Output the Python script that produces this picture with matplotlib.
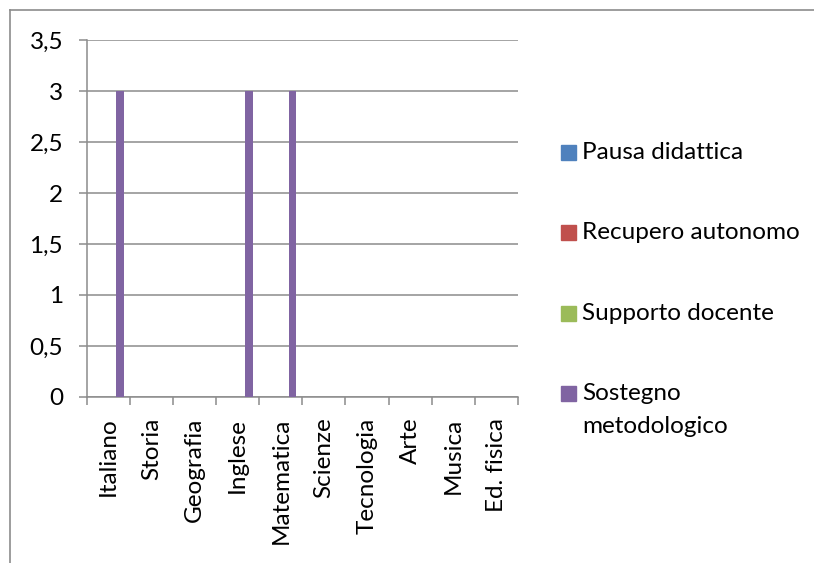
import matplotlib
matplotlib.use("Agg")
import matplotlib.pyplot as plt
from matplotlib.patches import Rectangle
from matplotlib.lines import Line2D
import numpy as np

categories = ["Italiano", "Storia", "Geografia", "Inglese", "Matematica",
              "Scienze", "Tecnologia", "Arte", "Musica", "Ed. fisica"]
series_names = ["Pausa didattica", "Recupero autonomo", "Supporto docente",
                "Sostegno\nmetodologico"]
pausa = [0, 0, 0, 0, 0, 0, 0, 0, 0, 0]
recupero = [0, 0, 0, 0, 0, 0, 0, 0, 0, 0]
supporto = [0, 0, 0, 0, 0, 0, 0, 0, 0, 0]
sostegno = [3, 0, 0, 3, 3, 0, 0, 0, 0, 0]
colors = ["#4F81BD", "#C0504D", "#9BBB59", "#8064A2"]
yticks = [0, 0.5, 1, 1.5, 2, 2.5, 3, 3.5]
ytick_labels = ["0", "0,5", "1", "1,5", "2", "2,5", "3", "3,5"]

plt.rcParams['font.family'] = ['Lato', 'DejaVu Sans']
FS = 17.5
W, H = 814, 563
fig = plt.figure(figsize=(W / 100, H / 100), dpi=100)
ax = fig.add_axes([86.7 / W, 1 - 396.8 / H, (518 - 86.7) / W, (396.8 - 40.2) / H])

grid_c = "#8C8C8C"
x = np.arange(len(categories))
bw = 1 / 5.5
all_series = [pausa, recupero, supporto, sostegno]
for i, (vals, c) in enumerate(zip(all_series, colors)):
    ax.bar(x + (i - 1.5) * bw, vals, width=bw, color=c, zorder=3)

ax.set_xlim(-0.5, len(categories) - 0.5)
ax.set_ylim(0, 3.5)
ax.set_yticks(yticks)
ax.set_yticklabels(ytick_labels, fontsize=FS)
ax.yaxis.grid(True, color=grid_c, linewidth=1.1, zorder=0)
ax.tick_params(axis='y', length=6, width=1.1, color=grid_c, pad=11)

ax.set_xticks(np.arange(-0.5, len(categories), 1.0))
ax.set_xticklabels([])
ax.set_xticks(x, minor=True)
ax.set_xticklabels(categories, minor=True, rotation=90, fontsize=FS,
                   ha='center', va='top')
ax.tick_params(axis='x', which='major', length=6, width=1.1, color=grid_c)
ax.tick_params(axis='x', which='minor', length=0, pad=15)

for s in ['top', 'right']:
    ax.spines[s].set_visible(False)
for s in ['left', 'bottom']:
    ax.spines[s].set_color(grid_c)
    ax.spines[s].set_linewidth(1.1)

# Legend drawn manually
leg_y = [152.5, 232.5, 313.0, 393.5]
line_gap = 33
for name, c, yy in zip(series_names, colors, leg_y):
    fig.add_artist(Rectangle(((561) / W, 1 - (yy + 7.5) / H), 15 / W, 15 / H,
                             transform=fig.transFigure, color=c))
    for k, line in enumerate(name.split("\n")):
        fig.text(582 / W, 1 - (yy + 6.5 + k * line_gap) / H, line, fontsize=FS,
                 va='baseline', ha='left')

# outer border
fig.add_artist(Line2D([10 / W, 10 / W], [0, 1 - 10 / H], transform=fig.transFigure,
                      color="#8C8C8C", linewidth=1.2))
fig.add_artist(Line2D([10 / W, 1], [1 - 10 / H, 1 - 10 / H], transform=fig.transFigure,
                      color="#8C8C8C", linewidth=1.2))

fig.savefig("out.png", dpi=100)
